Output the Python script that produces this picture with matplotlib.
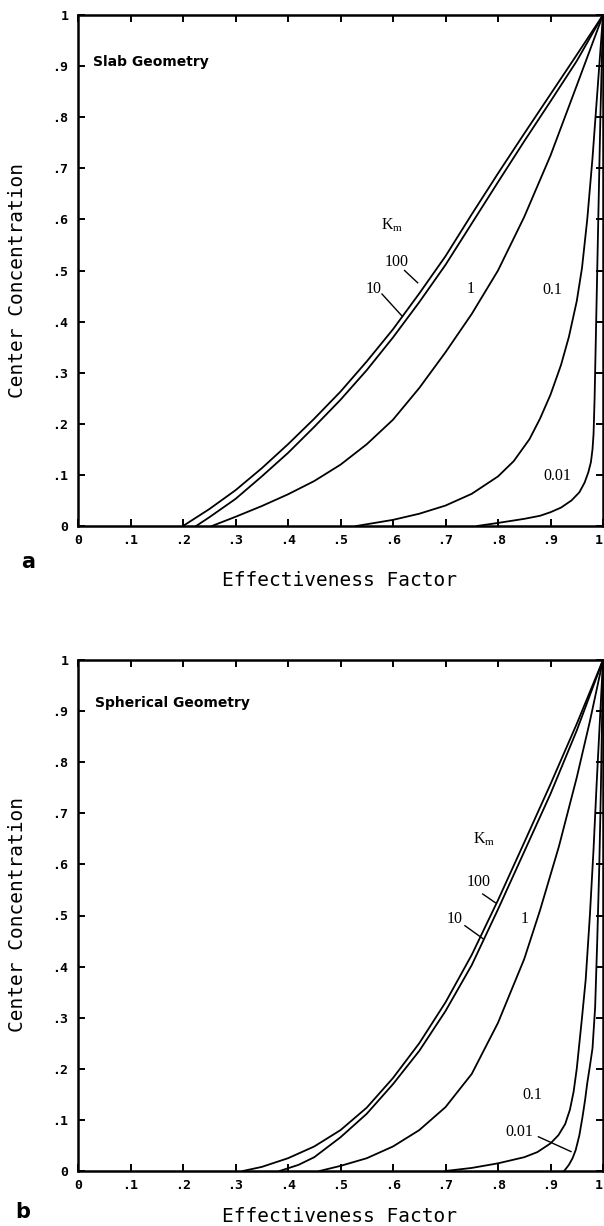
import matplotlib
matplotlib.use("Agg")
import matplotlib.pyplot as plt

plt.rcParams["mathtext.fontset"] = "custom"
plt.rcParams["mathtext.rm"] = "Liberation Serif"
plt.rcParams["mathtext.it"] = "Liberation Serif:italic"

# ---------------- data ----------------
tick_vals = [0, .1, .2, .3, .4, .5, .6, .7, .8, .9, 1]
tick_labels = ["0", ".1", ".2", ".3", ".4", ".5", ".6", ".7", ".8", ".9", "1"]

# Slab geometry (panel a)
slab_km100_x = [0.20, 0.25, 0.30, 0.35, 0.40, 0.45, 0.50, 0.55, 0.60, 0.65, 0.70, 0.75, 0.80, 0.85, 0.90, 0.95, 1.00]
slab_km100_y = [0.00, 0.033, 0.070, 0.113, 0.160, 0.210, 0.263, 0.322, 0.385, 0.455, 0.528, 0.610, 0.690, 0.768, 0.845, 0.922, 1.00]
slab_km10_x = [0.225, 0.25, 0.30, 0.35, 0.40, 0.45, 0.50, 0.55, 0.60, 0.65, 0.70, 0.75, 0.80, 0.85, 0.90, 0.95, 1.00]
slab_km10_y = [0.00, 0.017, 0.053, 0.097, 0.143, 0.194, 0.247, 0.305, 0.369, 0.438, 0.511, 0.592, 0.673, 0.753, 0.831, 0.910, 1.00]
slab_km1_x = [0.255, 0.30, 0.35, 0.40, 0.45, 0.50, 0.55, 0.60, 0.65, 0.70, 0.75, 0.80, 0.85, 0.90, 0.95, 1.00]
slab_km1_y = [0.00, 0.018, 0.039, 0.062, 0.088, 0.120, 0.160, 0.208, 0.270, 0.340, 0.415, 0.500, 0.605, 0.725, 0.862, 1.00]
slab_km01_x = [0.53, 0.60, 0.65, 0.70, 0.75, 0.80, 0.83, 0.86, 0.88, 0.90, 0.92, 0.935, 0.95, 0.96, 0.97, 0.98, 0.99, 1.00]
slab_km01_y = [0.00, 0.012, 0.024, 0.040, 0.063, 0.097, 0.127, 0.170, 0.210, 0.257, 0.315, 0.370, 0.440, 0.505, 0.600, 0.720, 0.860, 1.00]
slab_km001_x = [0.76, 0.80, 0.85, 0.88, 0.90, 0.92, 0.94, 0.955, 0.965, 0.972, 0.977, 0.980, 0.982, 0.984, 0.987, 0.991, 0.995, 1.00]
slab_km001_y = [0.00, 0.006, 0.014, 0.020, 0.027, 0.036, 0.050, 0.066, 0.085, 0.105, 0.125, 0.150, 0.180, 0.250, 0.400, 0.600, 0.800, 1.00]

# Spherical geometry (panel b)
sph_km100_x = [0.314, 0.35, 0.40, 0.45, 0.50, 0.55, 0.60, 0.65, 0.70, 0.75, 0.80, 0.85, 0.90, 0.95, 1.00]
sph_km100_y = [0.00, 0.008, 0.025, 0.048, 0.080, 0.124, 0.182, 0.250, 0.330, 0.423, 0.530, 0.643, 0.757, 0.875, 1.00]
sph_km10_x = [0.384, 0.42, 0.45, 0.50, 0.55, 0.60, 0.65, 0.70, 0.75, 0.80, 0.85, 0.90, 0.95, 1.00]
sph_km10_y = [0.00, 0.012, 0.027, 0.066, 0.112, 0.170, 0.235, 0.313, 0.403, 0.512, 0.625, 0.738, 0.862, 1.00]
sph_km1_x = [0.46, 0.50, 0.55, 0.60, 0.65, 0.70, 0.75, 0.80, 0.85, 0.88, 0.916, 0.95, 0.975, 1.00]
sph_km1_y = [0.00, 0.010, 0.025, 0.048, 0.080, 0.125, 0.190, 0.290, 0.415, 0.510, 0.635, 0.770, 0.880, 1.00]
sph_km01_x = [0.70, 0.75, 0.80, 0.85, 0.875, 0.90, 0.915, 0.928, 0.937, 0.944, 0.95, 0.955, 0.96, 0.967, 0.975, 0.982, 0.988, 0.994, 1.00]
sph_km01_y = [0.00, 0.006, 0.015, 0.027, 0.037, 0.054, 0.070, 0.092, 0.120, 0.155, 0.200, 0.250, 0.300, 0.374, 0.500, 0.630, 0.760, 0.880, 1.00]
sph_km001_x = [0.926, 0.935, 0.942, 0.948, 0.955, 0.961, 0.966, 0.970, 0.975, 0.980, 0.985, 0.989, 0.993, 0.996, 1.00]
sph_km001_y = [0.00, 0.012, 0.025, 0.041, 0.070, 0.106, 0.140, 0.172, 0.205, 0.240, 0.320, 0.450, 0.600, 0.750, 1.00]

# ---------------- figure ----------------
W, H = 604, 1226
fig = plt.figure(figsize=(W / 100, H / 100), dpi=100)

def px_axes(left, top, right, bottom):
    return [left / W, 1 - bottom / H, (right - left) / W, (bottom - top) / H]

ax_a = fig.add_axes(px_axes(78, 15, 603, 526))
ax_b = fig.add_axes(px_axes(78, 660, 603, 1171))

tick_font = dict(family="DejaVu Sans Mono", weight="bold", size=9.5)
serif = dict(family="Liberation Serif", size=11.5)

def style(ax):
    ax.set_xlim(0, 1)
    ax.set_ylim(0, 1)
    ax.set_xticks(tick_vals)
    ax.set_yticks(tick_vals)
    ax.set_xticklabels(tick_labels, fontdict=tick_font)
    ax.set_yticklabels(tick_labels, fontdict=tick_font)
    ax.get_xticklabels()[-1].set_horizontalalignment("right")
    ax.tick_params(direction="in", length=5, width=1.4, top=True, right=True,
                   labeltop=False, labelright=False, colors="black")
    ax.tick_params(axis="x", pad=6)
    ax.tick_params(axis="y", pad=7)
    for s in ax.spines.values():
        s.set_linewidth(1.8)
    ax.set_facecolor("white")

lw = 1.3
for ax, series in [
    (ax_a, [(slab_km100_x, slab_km100_y), (slab_km10_x, slab_km10_y), (slab_km1_x, slab_km1_y),
            (slab_km01_x, slab_km01_y), (slab_km001_x, slab_km001_y)]),
    (ax_b, [(sph_km100_x, sph_km100_y), (sph_km10_x, sph_km10_y), (sph_km1_x, sph_km1_y),
            (sph_km01_x, sph_km01_y), (sph_km001_x, sph_km001_y)]),
]:
    style(ax)
    for xs, ys in series:
        ax.plot(xs, ys, color="black", lw=lw, solid_joinstyle="round")

# ---- panel a annotations ----
ax_a.text(0.029, 0.908, "Slab Geometry", fontsize=10, weight="bold", family="DejaVu Sans",
          ha="left", va="center")
ax_a.text(0.598, 0.589, r"K$_{\mathrm{m}}$", ha="center", va="center", **serif)
ax_a.text(0.606, 0.517, "100", ha="center", va="center", **serif)
ax_a.plot([0.622, 0.647], [0.500, 0.476], color="black", lw=1.0)
ax_a.text(0.563, 0.463, "10", ha="center", va="center", **serif)
ax_a.plot([0.579, 0.618], [0.454, 0.410], color="black", lw=1.0)
ax_a.text(0.747, 0.463, "1", ha="center", va="center", **serif)
ax_a.text(0.904, 0.462, "0.1", ha="center", va="center", **serif)
ax_a.text(0.913, 0.098, "0.01", ha="center", va="center", **serif)

# ---- panel b annotations ----
ax_b.text(0.032, 0.916, "Spherical Geometry", fontsize=10, weight="bold", family="DejaVu Sans",
          ha="left", va="center")
ax_b.text(0.773, 0.649, r"K$_{\mathrm{m}}$", ha="center", va="center", **serif)
ax_b.text(0.763, 0.566, "100", ha="center", va="center", **serif)
ax_b.plot([0.771, 0.795], [0.542, 0.525], color="black", lw=1.0)
ax_b.text(0.718, 0.494, "10", ha="center", va="center", **serif)
ax_b.plot([0.737, 0.771], [0.480, 0.455], color="black", lw=1.0)
ax_b.text(0.850, 0.493, "1", ha="center", va="center", **serif)
ax_b.text(0.866, 0.149, "0.1", ha="center", va="center", **serif)
ax_b.text(0.840, 0.077, "0.01", ha="center", va="center", **serif)
ax_b.plot([0.877, 0.939], [0.067, 0.038], color="black", lw=1.0)

# ---- axis titles & panel letters (figure pixel coords) ----
def ftext(x, y, s, **kw):
    fig.text(x / W, 1 - y / H, s, **kw)

lab = dict(family="DejaVu Sans Mono", size=14, ha="center", va="center")
ftext(340, 581, "Effectiveness Factor", **lab)
ftext(340, 1216, "Effectiveness Factor", **lab)
ftext(18, 280, "Center Concentration", rotation=90, **lab)
ftext(18, 915, "Center Concentration", rotation=90, **lab)
ftext(28, 562, "a", family="DejaVu Sans", size=15, weight="bold", ha="center", va="center")
ftext(23, 1212, "b", family="DejaVu Sans", size=15, weight="bold", ha="center", va="center")

fig.savefig("out.png", dpi=100, facecolor="white")
